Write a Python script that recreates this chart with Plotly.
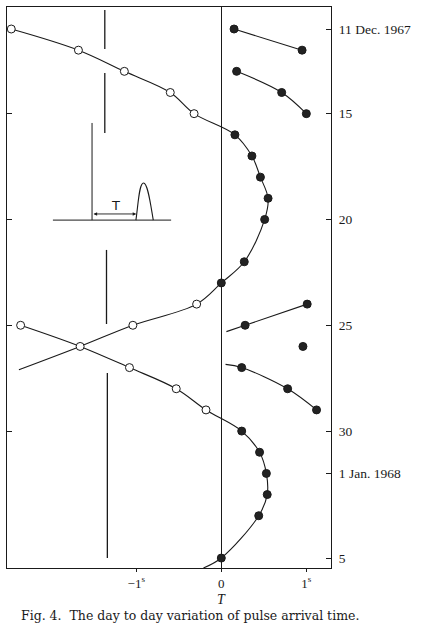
import plotly.graph_objects as go

# ---- data (T in seconds, day number: 32 = 1 Jan 1968) ----
open_days = [11, 12, 13, 14, 15, 24, 25, 25, 26, 27, 28, 29]
open_T = [-2.47, -1.68, -1.14, -0.60, -0.32, -0.29, -2.36, -1.04, -1.66, -1.08, -0.53, -0.18]

filled_days = [11, 12, 13, 14, 15, 16, 17, 18, 19, 20, 22, 23,
               24, 25, 26, 27, 28, 29, 30, 31, 32, 33, 34, 36]
filled_T = [0.15, 0.95, 0.18, 0.71, 1.00, 0.16, 0.36, 0.46, 0.55, 0.51, 0.27, 0.00,
            1.01, 0.28, 0.96, 0.24, 0.78, 1.12, 0.24, 0.45, 0.53, 0.54, 0.44, 0.00]

# fitted curves (day, T)
curveA_days = [11, 12, 13, 14, 15, 16, 17, 18, 19, 20, 22, 23, 24, 25, 26, 27.1]
curveA_T = [-2.47, -1.68, -1.14, -0.60, -0.32, 0.16, 0.36, 0.46, 0.55, 0.51, 0.27, 0.00, -0.29, -1.04, -1.66, -2.38]
curveB_days = [25, 26, 27, 28, 29, 30, 31, 32, 33, 34, 36, 36.47]
curveB_T = [-2.36, -1.66, -1.08, -0.53, -0.18, 0.24, 0.45, 0.53, 0.54, 0.44, 0.00, -0.21]
curveC_days = [11, 12]
curveC_T = [0.15, 0.95]
curveD_days = [13, 14, 15]
curveD_T = [0.18, 0.71, 1.00]
curveE_days = [24, 25, 25.3]
curveE_T = [1.01, 0.28, 0.06]
curveF_days = [26.85, 27, 28, 29]
curveF_T = [0.05, 0.24, 0.78, 1.12]

# broken vertical reference line segments (T, day_start, day_end)
ref_segments = [(-1.37, 10.1, 11.95), (-1.37, 13.08, 15.92),
                (-1.35, 21.44, 24.94), (-1.34, 27.26, 36.0)]

ytick_vals = [11, 15, 20, 25, 30, 32, 36]
ytick_text = ["11 Dec. 1967", "15", "20", "25", "30", "1 Jan. 1968", "5"]
xtick_vals = [-1, 0, 1]
xtick_text = ["\u22121<sup>s</sup>", "0", "1<sup>s</sup>"]

SERIF = "Liberation Serif, Times New Roman, serif"
WIDE_SERIF = "DejaVu Serif, serif"
INK = "#1a1a1a"

fig = go.Figure()

for d, t in [(curveA_days, curveA_T), (curveB_days, curveB_T), (curveC_days, curveC_T),
             (curveD_days, curveD_T), (curveE_days, curveE_T), (curveF_days, curveF_T)]:
    fig.add_trace(go.Scatter(x=t, y=d, mode="lines",
                             line=dict(color=INK, width=1.1, shape="spline", smoothing=1.0),
                             hoverinfo="skip", showlegend=False))

fig.add_trace(go.Scatter(x=open_T, y=open_days, mode="markers",
                         marker=dict(symbol="circle", size=8, color="white",
                                     line=dict(color=INK, width=1)),
                         showlegend=False))
fig.add_trace(go.Scatter(x=filled_T, y=filled_days, mode="markers",
                         marker=dict(symbol="circle", size=8, color="#222222",
                                     line=dict(color=INK, width=1)),
                         showlegend=False))

# dummy trace for left tick axis
fig.add_trace(go.Scatter(x=[None], y=[None], yaxis="y2", showlegend=False))

shapes = []
for t, d0, d1 in ref_segments:
    shapes.append(dict(type="line", xref="x", yref="y", x0=t, x1=t, y0=d0, y1=d1,
                       line=dict(color=INK, width=1.3)))

# inset diagram (pulse schematic)
shapes.append(dict(type="line", xref="x", yref="y", x0=-1.98, x1=-0.59, y0=20.03, y1=20.03,
                   line=dict(color=INK, width=1)))
shapes.append(dict(type="line", xref="x", yref="y", x0=-1.52, x1=-1.52, y0=15.44, y1=20.03,
                   line=dict(color=INK, width=1)))
shapes.append(dict(type="path", xref="x", yref="y",
                   path="M -1.004 20.03 C -0.975 19.2, -0.965 18.28, -0.915 18.28 "
                        "C -0.865 18.28, -0.835 19.2, -0.80 20.03",
                   line=dict(color=INK, width=1.1)))

annotations = [
    dict(x=-1.0, y=19.74, ax=-1.52, ay=19.74, xref="x", yref="y", axref="x", ayref="y",
         text="", showarrow=True, arrowhead=2, arrowside="end+start", arrowsize=0.8,
         arrowwidth=0.9, arrowcolor=INK),
    dict(x=-1.25, y=19.35, xref="x", yref="y", text="T", showarrow=False,
         font=dict(family="DejaVu Sans, sans-serif", size=13, color=INK)),
    dict(x=0, y=0, xref="x", yref="paper", yanchor="middle", yshift=-31, text="<i>T</i>",
         showarrow=False, font=dict(family=SERIF, size=14, color=INK)),
    dict(x=0, y=0, xref="paper", yref="paper", xanchor="left", yanchor="middle",
         xshift=12, yshift=-47,
         text="Fig. 4.  The day to day variation of pulse arrival time.", showarrow=False,
         font=dict(family=WIDE_SERIF, size=12.5, color=INK)),
]

fig.update_layout(
    width=423, height=633,
    margin=dict(l=7, r=92, t=7, b=65),
    paper_bgcolor="white", plot_bgcolor="white",
    shapes=shapes, annotations=annotations,
    font=dict(family=SERIF, size=13, color=INK),
    xaxis=dict(range=[-2.52, 1.29], tickvals=xtick_vals, ticktext=xtick_text,
               ticks="outside", ticklen=3, tickcolor=INK, showgrid=False,
               showline=True, linecolor=INK, linewidth=1.2, mirror=True,
               zeroline=True, zerolinecolor=INK, zerolinewidth=1.2,
               tickfont=dict(family=SERIF, size=13, color=INK)),
    yaxis=dict(range=[36.47, 9.96], side="right", tickvals=ytick_vals, ticktext=ytick_text,
               ticks="inside", ticklen=5, tickcolor=INK, showgrid=False, ticklabelstandoff=4,
               showline=True, linecolor=INK, linewidth=1.2, mirror=True, zeroline=False,
               tickfont=dict(family=SERIF, size=13.5, color=INK)),
    yaxis2=dict(range=[36.47, 9.96], overlaying="y", side="left", tickvals=[15, 20, 25, 30],
                ticks="inside", ticklen=5, tickcolor=INK, showticklabels=False,
                showgrid=False, showline=False, zeroline=False),
)

fig.write_html("out.html")
